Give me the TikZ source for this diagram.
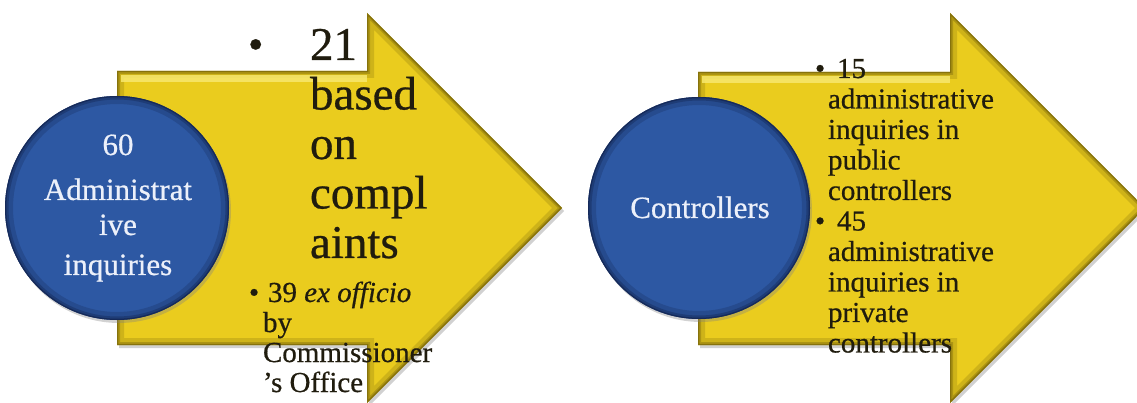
\documentclass[tikz,border=0pt]{standalone}
\usepackage{fontspec}
\setmainfont{Liberation Serif}[RawFeature={embolden=0.6}]
\usetikzlibrary{shadows}
\definecolor{ylw}{RGB}{234,204,30}
\definecolor{ylwlight}{RGB}{248,232,110}
\definecolor{ylwdark}{RGB}{110,92,8}
\definecolor{blu}{RGB}{45,88,163}
\definecolor{bludark}{RGB}{20,38,82}
\definecolor{ink}{RGB}{32,28,14}
\definecolor{circtext}{RGB}{236,240,250}
\newcommand\linestack[2]{\vtop{\baselineskip=#1\lineskiplimit=-1000pt\lineskip=0pt\halign{##\hfil\cr#2\crcr}}}
\newcommand\centerstack[2]{\vtop{\baselineskip=#1\lineskiplimit=-1000pt\lineskip=0pt\halign{\hfil##\hfil\cr#2\crcr}}}
\tikzset{
  arrowL/.style={insert path={(117,71) -- (367,71) -- (367,13) -- (562,208) -- (367,403) -- (367,345) -- (117,345) -- cycle}},
  arrowR/.style={insert path={(698,72) -- (950,72) -- (950,13) -- (1145,208) -- (950,403) -- (950,345) -- (698,345) -- cycle}},
  ball/.style={circle, inner sep=0pt, outer sep=0pt, minimum size=#1, fill=blu,
    drop shadow={shadow xshift=2pt, shadow yshift=-3pt, opacity=.35},
    path picture={
      \draw[bludark, line width=16pt, opacity=.25] (path picture bounding box.center) circle (0.5*#1);
      \draw[bludark, line width=7pt, opacity=.4] (path picture bounding box.center) circle (0.5*#1);
      \draw[bludark, line width=2.5pt, opacity=.8] (path picture bounding box.center) circle (0.5*#1);
    }},
  txt/.style={inner sep=0pt, outer sep=0pt, text=ink},
  ctxt/.style={inner sep=0pt, outer sep=0pt, text=circtext, font=\fontsize{31pt}{35pt}\selectfont},
  big/.style={font=\fontsize{47pt}{49.5pt}\selectfont},
  small/.style={font=\fontsize{29pt}{30.5pt}\selectfont},
}
\begin{document}
\begin{tikzpicture}[x=1pt,y=-1pt]
\useasboundingbox (0,0) rectangle (1137,403);
\clip (0,0) rectangle (1137,403);
\fill[white] (0,0) rectangle (1137,403);

% left arrow
\fill[black, opacity=.18, xshift=2pt, yshift=-3pt, arrowL];
\fill[ylw, arrowL];
\begin{scope}
  \clip[arrowL];
  \draw[ylwdark, line width=14pt, opacity=.22, arrowL];
  \draw[ylwdark, line width=6pt, opacity=.35, arrowL];
  \draw[ylwdark, line width=2.5pt, opacity=.6, arrowL];
  \draw[ylwlight, line width=7pt, opacity=.85] (121,79) -- (367,79);
\end{scope}

% right arrow
\fill[black, opacity=.18, xshift=2pt, yshift=-3pt, arrowR];
\fill[ylw, arrowR];
\begin{scope}
  \clip[arrowR];
  \draw[ylwdark, line width=14pt, opacity=.22, arrowR];
  \draw[ylwdark, line width=6pt, opacity=.35, arrowR];
  \draw[ylwdark, line width=2.5pt, opacity=.6, arrowR];
  \draw[ylwlight, line width=7pt, opacity=.85] (702,80) -- (950,80);
\end{scope}

% circles
\node[ball=224pt] (c1) at (117,208) {};
\node[ball=222pt] (c2) at (699,208) {};

% circle texts
\node[ctxt, anchor=base] (l1) at (118,155) {\centerstack{35pt}{60\cr\noalign{\kern10pt}Administrat\cr ive\cr\noalign{\kern5pt}inquiries}};
\node[ctxt, anchor=base] (l2) at (700,218) {Controllers};

% left arrow texts
\node[txt, anchor=base west, font=\fontsize{44pt}{46pt}\selectfont] (b1) at (248,59) {•};
\node[txt, big, anchor=base west] (t1) at (310,60) {\linestack{49.5pt}{21\cr based\cr on\cr compl\cr aints}};
\node[txt, small, anchor=base west] (b2) at (249,302) {•};
\node[txt, small, anchor=base west] (t2) at (263,302) {\linestack{30pt}{\kern5pt 39 \textit{ex officio}\cr by\cr Commissioner\cr ’s Office}};

% right arrow texts
\node[txt, small, anchor=base west] (b3) at (815,78) {•};
\node[txt, small, anchor=base west] (b4) at (815,230.5) {•};
\node[txt, small, anchor=base west] (t3) at (828,78) {\linestack{30.5pt}{\kern9pt 15\cr administrative\cr inquiries in\cr public\cr controllers\cr \kern9pt 45\cr administrative\cr inquiries in\cr private\cr controllers}};
\end{tikzpicture}
\end{document}
